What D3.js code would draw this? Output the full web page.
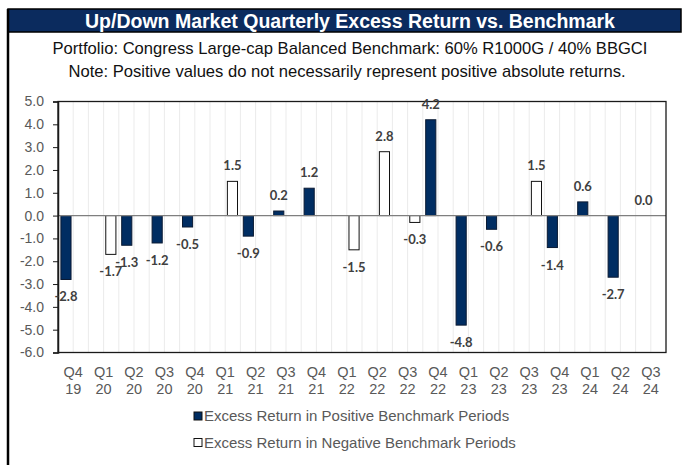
<!DOCTYPE html>
<html>
<head>
<meta charset="utf-8">
<script src="https://cdn.jsdelivr.net/npm/d3@7"></script>
<style>
  body { margin: 0; background: #fff; }
  svg { display: block; }
</style>
</head>
<body>
<svg width="684" height="465"></svg>
<script>
var quarters = ["Q4 19","Q1 20","Q2 20","Q3 20","Q4 20","Q1 21","Q2 21","Q3 21","Q4 21","Q1 22",
                "Q2 22","Q3 22","Q4 22","Q1 23","Q2 23","Q3 23","Q4 23","Q1 24","Q2 24","Q3 24"];
// excess return when benchmark was up (null = benchmark down that quarter)
var upMarket = [-2.8, null, -1.3, -1.2, -0.5, null, -0.9, 0.2, 1.2, null,
                null, null, 4.2, -4.8, -0.6, null, -1.4, 0.6, -2.7, 0.0];
// excess return when benchmark was down
var downMarket = [null, -1.7, null, null, null, 1.5, null, null, null, -1.5,
                  2.8, -0.3, null, null, null, 1.5, null, null, null, null];
var yTicks = [5, 4, 3, 2, 1, 0, -1, -2, -3, -4, -5, -6];
var seriesNames = ["Excess Return in Positive Benchmark Periods", "Excess Return in Negative Benchmark Periods"];

var navy = "#002d62";
var grey = "#595959";
var fmt = function(v) { return v.toFixed(1); };   // plain hyphen minus, like Excel

var svg = d3.select("svg");

// frame + title bar
svg.append("rect")
  .attr("x", 8).attr("y", 9).attr("width", 673).attr("height", 23)
  .attr("fill", "#0b2b5e").attr("stroke", "#000").attr("stroke-width", 1.5);
svg.append("line")
  .attr("x1", 8).attr("x2", 8).attr("y1", 9).attr("y2", 465)
  .attr("stroke", "#000").attr("stroke-width", 2.5);

svg.append("text")
  .attr("x", 350).attr("y", 28)
  .attr("text-anchor", "middle")
  .attr("font-family", "Liberation Sans, Arial, sans-serif")
  .attr("font-weight", "bold").attr("font-size", "19.5px")
  .attr("fill", "#fff")
  .text("Up/Down Market Quarterly Excess Return vs. Benchmark");

svg.append("text")
  .attr("x", 350).attr("y", 54)
  .attr("text-anchor", "middle")
  .attr("font-family", "Liberation Sans, Arial, sans-serif")
  .attr("font-size", "16.6px").attr("fill", "#111")
  .text("Portfolio: Congress Large-cap Balanced Benchmark: 60% R1000G / 40% BBGCI");
svg.append("text")
  .attr("x", 347).attr("y", 77)
  .attr("text-anchor", "middle")
  .attr("font-family", "Liberation Sans, Arial, sans-serif")
  .attr("font-size", "16.6px").attr("fill", "#111")
  .text("Note: Positive values do not necessarily represent positive absolute returns.");

// plot area
var pLeft = 58, pRight = 666, pTop = 101.5, pBottom = 352.5;

var x = d3.scaleBand().domain(quarters).range([pLeft, pRight]).padding(0);
var xs = d3.scaleBand().domain([0, 1]).range([0, x.bandwidth()]).paddingInner(0.3).paddingOuter(0.2);
var y = d3.scaleLinear().domain([-6, 5]).range([pBottom, pTop]);

// vertical gridlines at every half category
var g = svg.append("g");
quarters.forEach(function(q, i) {
  [0, 0.5].forEach(function(f) {
    var gx = x(q) + f * x.bandwidth();
    if (gx <= pLeft) return;
    g.append("line")
      .attr("x1", gx).attr("x2", gx).attr("y1", pTop).attr("y2", pBottom)
      .attr("stroke", "#ebebeb").attr("stroke-width", 1);
  });
});

// bars
var bars = [];
quarters.forEach(function(q, i) {
  if (upMarket[i] !== null) bars.push({q: q, s: 0, v: upMarket[i]});
  if (downMarket[i] !== null) bars.push({q: q, s: 1, v: downMarket[i]});
});

svg.selectAll(".bar")
  .data(bars)
  .enter()
  .append("rect")
  .attr("class", "bar")
  .attr("x", function(d) { return x(d.q) + xs(d.s); })
  .attr("width", xs.bandwidth())
  .attr("y", function(d) { return y(Math.max(0, d.v)); })
  .attr("height", function(d) { return Math.abs(y(d.v) - y(0)); })
  .attr("fill", function(d) { return d.s === 0 ? navy : "#fff"; })
  .attr("stroke", function(d) { return d.s === 0 ? "#0a1a33" : "#111"; })
  .attr("stroke-width", 1);

// zero line
svg.append("line")
  .attr("x1", pLeft).attr("x2", pRight).attr("y1", y(0)).attr("y2", y(0))
  .attr("stroke", "#7f7f7f").attr("stroke-width", 1.3);

// plot border
svg.append("rect")
  .attr("x", pLeft).attr("y", pTop).attr("width", pRight - pLeft).attr("height", pBottom - pTop)
  .attr("fill", "none").attr("stroke", "#1a1a1a").attr("stroke-width", 1.3);

// y axis
var yAxis = svg.append("g")
  .attr("transform", "translate(" + pLeft + ",0)")
  .call(d3.axisLeft(y).tickValues(yTicks).tickSize(5).tickFormat(fmt));
yAxis.select(".domain").attr("stroke", "#1a1a1a").attr("stroke-width", 1.5);
yAxis.selectAll(".tick line").attr("stroke", "#1a1a1a");
yAxis.selectAll("text")
  .attr("x", -14)
  .attr("font-family", "Liberation Sans, Arial, sans-serif")
  .attr("font-size", "14px").attr("fill", grey);

// x labels on two lines
var xl = svg.append("g").selectAll("text")
  .data(quarters)
  .enter()
  .append("text")
  .attr("text-anchor", "middle")
  .attr("font-family", "Liberation Sans, Arial, sans-serif")
  .attr("font-size", "14.5px").attr("fill", grey);
xl.append("tspan")
  .attr("x", function(d) { return x(d) + x.bandwidth() / 2; })
  .attr("y", 377)
  .text(function(d) { return d.split(" ")[0]; });
xl.append("tspan")
  .attr("x", function(d) { return x(d) + x.bandwidth() / 2; })
  .attr("y", 394)
  .text(function(d) { return d.split(" ")[1]; });

// data labels
svg.selectAll(".lbl")
  .data(bars)
  .enter()
  .append("text")
  .attr("class", "lbl")
  .attr("x", function(d) { return x(d.q) + xs(d.s) + xs.bandwidth() / 2; })
  .attr("y", function(d) { return d.v < 0 ? y(d.v) + 22 : y(d.v) - 11; })
  .attr("text-anchor", "middle")
  .attr("font-family", "Lato, Open Sans, sans-serif")
  .attr("font-weight", "bold").attr("font-size", "13px")
  .attr("fill", "#404040")
  .text(function(d) { return fmt(d.v); });

// legend
var legend = svg.append("g").selectAll("g")
  .data(seriesNames)
  .enter()
  .append("g")
  .attr("transform", function(d, i) { return "translate(194," + (412 + i * 26.5) + ")"; });
legend.append("rect")
  .attr("width", 8).attr("height", 8)
  .attr("fill", function(d, i) { return i === 0 ? navy : "#fff"; })
  .attr("stroke", "#111").attr("stroke-width", 1);
legend.append("text")
  .attr("x", 10).attr("y", 9)
  .attr("font-family", "Liberation Sans, Arial, sans-serif")
  .attr("font-size", "15px").attr("fill", grey)
  .text(function(d) { return d; });
</script>
</body>
</html>
